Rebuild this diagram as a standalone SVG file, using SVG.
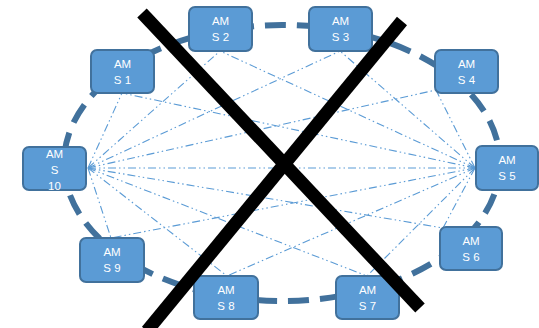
<svg xmlns="http://www.w3.org/2000/svg" width="539" height="328" viewBox="0 0 539 328">
<style>
.ring{fill:none;stroke:#41719C;stroke-width:6;stroke-dasharray:21 11}
.cn{fill:none;stroke:#5B9BD5;stroke-width:1.1;stroke-dasharray:8 3 1.5 3 1.5 3}
.box{fill:#5B9BD5;stroke:#41719C;stroke-width:2}
.t{fill:#fff;font-family:"Liberation Sans",Arial,sans-serif;font-size:11.5px;text-anchor:middle}
.x{stroke:#000;stroke-width:13;stroke-linecap:butt}
</style>
<rect width="539" height="328" fill="#fff"/>
<ellipse class="ring" cx="282" cy="163" rx="218" ry="138"/>
<g id="connectors">
<line class="cn" x1="88" y1="168" x2="122" y2="93"/>
<line class="cn" x1="88" y1="168" x2="220" y2="51"/>
<line class="cn" x1="88" y1="168" x2="340" y2="51"/>
<line class="cn" x1="88" y1="168" x2="436" y2="90"/>
<line class="cn" x1="88" y1="168" x2="475" y2="168"/>
<line class="cn" x1="88" y1="168" x2="443" y2="228"/>
<line class="cn" x1="88" y1="168" x2="367" y2="276"/>
<line class="cn" x1="88" y1="168" x2="227" y2="276"/>
<line class="cn" x1="88" y1="168" x2="111" y2="238"/>
<line class="cn" x1="475" y1="168" x2="122" y2="93"/>
<line class="cn" x1="475" y1="168" x2="220" y2="51"/>
<line class="cn" x1="475" y1="168" x2="340" y2="51"/>
<line class="cn" x1="475" y1="168" x2="436" y2="90"/>
<line class="cn" x1="475" y1="168" x2="443" y2="228"/>
<line class="cn" x1="475" y1="168" x2="367" y2="276"/>
<line class="cn" x1="475" y1="168" x2="227" y2="276"/>
<line class="cn" x1="475" y1="168" x2="111" y2="238"/>
</g>
<g id="S1"><rect class="box" x="91" y="50" width="63" height="43" rx="6"/><text class="t" x="122.5" y="67.5">AM</text><text class="t" x="122.5" y="83.5">S 1</text></g>
<g id="S2"><rect class="box" x="189" y="7" width="63" height="44" rx="6"/><text class="t" x="220.5" y="25">AM</text><text class="t" x="220.5" y="41">S 2</text></g>
<g id="S3"><rect class="box" x="309" y="7" width="63" height="44" rx="6"/><text class="t" x="340.5" y="25">AM</text><text class="t" x="340.5" y="41">S 3</text></g>
<g id="S4"><rect class="box" x="435" y="50" width="63" height="43" rx="6"/><text class="t" x="466.5" y="67.5">AM</text><text class="t" x="466.5" y="83.5">S 4</text></g>
<g id="S5"><rect class="box" x="476" y="146" width="62" height="44" rx="6"/><text class="t" x="507" y="164">AM</text><text class="t" x="507" y="180">S 5</text></g>
<g id="S6"><rect class="box" x="440" y="227" width="62" height="43" rx="6"/><text class="t" x="471" y="244.5">AM</text><text class="t" x="471" y="260.5">S 6</text></g>
<g id="S7"><rect class="box" x="336" y="276" width="63" height="43" rx="6"/><text class="t" x="367.5" y="293.5">AM</text><text class="t" x="367.5" y="309.5">S 7</text></g>
<g id="S8"><rect class="box" x="194" y="276" width="64" height="43" rx="6"/><text class="t" x="226" y="293.5">AM</text><text class="t" x="226" y="309.5">S 8</text></g>
<g id="S9"><rect class="box" x="80" y="238" width="64" height="44" rx="6"/><text class="t" x="112" y="256">AM</text><text class="t" x="112" y="272">S 9</text></g>
<g id="S10"><rect class="box" x="23" y="147" width="63" height="43" rx="6"/><text class="t" x="54.5" y="157.5">AM</text><text class="t" x="54.5" y="173.5">S</text><text class="t" x="54.5" y="189.5">10</text></g>
<g id="cross">
<line class="x" x1="142" y1="13" x2="420" y2="308"/>
<line class="x" x1="402" y1="21" x2="147" y2="331"/>
</g>
</svg>
